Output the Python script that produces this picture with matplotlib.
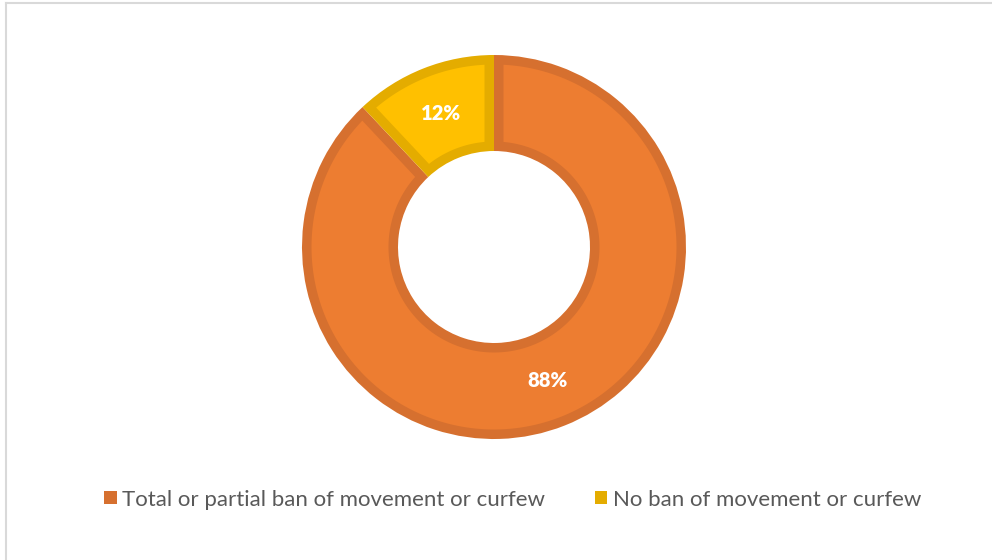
import numpy as np
import matplotlib.pyplot as plt
from matplotlib.patches import Patch, Polygon
from matplotlib.lines import Line2D

# data
labels = ["Total or partial ban of movement or curfew", "No ban of movement or curfew"]
values = [88, 12]
pct_text = ["88%", "12%"]
face_colors = ["#ED7D31", "#FFC000"]
edge_colors = ["#D6702F", "#E4AC00"]

plt.rcParams['font.family'] = ['Lato', 'DejaVu Sans']

fig = plt.figure(figsize=(9.92, 5.6), dpi=100)

# donut centred at about (494, 247) px, outer radius ~192 px
cx, cy, r_px = 494, 247, 192
W, H = 992, 560
ax = fig.add_axes([(cx - r_px) / W, 1 - (cy + r_px) / H, 2 * r_px / W, 2 * r_px / H])
ax.set_aspect('equal')

R_out, ring_w = 1.0, 0.5
wedges, _ = ax.pie(values, startangle=90, counterclock=False, radius=R_out,
                   colors=edge_colors, wedgeprops=dict(width=ring_w, linewidth=0))

# inner fill, inset by the border width, so the border sits inside each slice
d = 9.5 / r_px
ro, ri = R_out - d, R_out - ring_w + d
for w, fc in zip(wedges, face_colors):
    t1, t2 = np.deg2rad(w.theta1), np.deg2rad(w.theta2)
    a_o, a_i = np.arcsin(d / ro), np.arcsin(d / ri)
    to = np.linspace(t1 + a_o, t2 - a_o, 200)
    ti = np.linspace(t2 - a_i, t1 + a_i, 200)
    pts = np.vstack([np.column_stack([ro * np.cos(to), ro * np.sin(to)]),
                     np.column_stack([ri * np.cos(ti), ri * np.sin(ti)])])
    ax.add_patch(Polygon(pts, closed=True, facecolor=fc, edgecolor='none'))

ax.set_xlim(-1, 1)
ax.set_ylim(-1, 1)
ax.axis('off')

# percentage labels in the middle of the ring
for w, t in zip(wedges, pct_text):
    ang = np.deg2rad((w.theta1 + w.theta2) / 2)
    ax.text(0.75 * np.cos(ang), 0.75 * np.sin(ang), t, ha='center', va='center',
            color='white', fontsize=14.5, fontweight='heavy')

# legend
handles = [Patch(facecolor=c, edgecolor='none') for c in edge_colors]
fig.legend(handles, labels, loc='center', bbox_to_anchor=(0.517, 0.108), ncol=2,
           frameon=False, fontsize=16, labelcolor='#595959',
           handlelength=0.55, handleheight=0.55, handletextpad=0.25, columnspacing=2.25)

# light border (top and left visible)
fig.add_artist(Line2D([5.5 / W, 5.5 / W], [0, 1 - 2.5 / H], color='#D9D9D9', lw=1.5,
                      transform=fig.transFigure))
fig.add_artist(Line2D([5.5 / W, 1], [1 - 2.5 / H, 1 - 2.5 / H], color='#D9D9D9', lw=1.5,
                      transform=fig.transFigure))

fig.savefig('out.png', dpi=100, facecolor='white')
